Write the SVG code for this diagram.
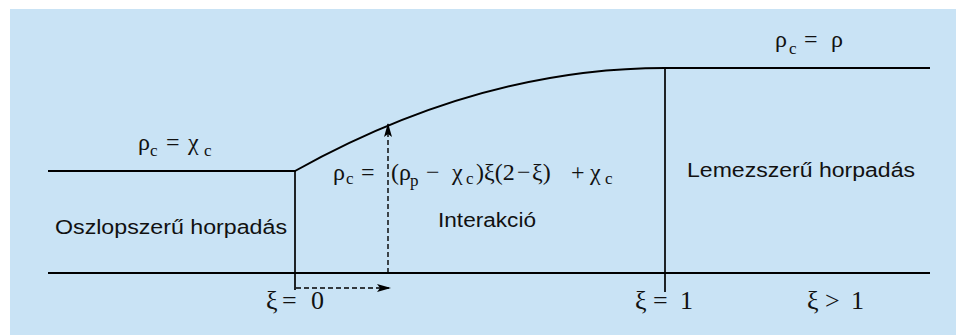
<svg xmlns="http://www.w3.org/2000/svg" width="956" height="335" viewBox="0 0 956 335">
<style>
.ln{stroke:#000;stroke-width:2;fill:none}
.vl{stroke:#000;stroke-width:1.7;fill:none}
.dash{stroke:#000;stroke-width:1.4;stroke-dasharray:5,3;fill:none}
.sans{font-family:"Liberation Sans",Arial,sans-serif;fill:#111}
.math{font-family:"Liberation Serif","Times New Roman",serif;fill:#111;font-size:24px}
.big{font-size:26px}
.sub{font-size:17px}
</style>
<defs>
<marker id="ah" markerWidth="14" markerHeight="8" refX="14" refY="4" orient="auto" markerUnits="userSpaceOnUse">
<path d="M0,0 L14,4 L0,8 L3,4 Z" fill="#000"/>
</marker>
</defs>
<rect x="10" y="9" width="946" height="326" fill="#c9e3f5"/>
<g id="connectors">
<line class="ln" x1="48" y1="171" x2="296" y2="171"/>
<line class="ln" x1="48" y1="273" x2="930" y2="273"/>
<line class="ln" x1="665" y1="68" x2="930" y2="68"/>
<path class="ln" d="M295,171 Q480,68 665,68"/>
<line class="vl" x1="295" y1="170" x2="295" y2="290"/>
<line class="vl" x1="665" y1="68" x2="665" y2="292"/>
<line class="dash" x1="388" y1="273" x2="388" y2="123" marker-end="url(#ah)"/>
<line class="dash" x1="296" y1="288" x2="391" y2="288" marker-end="url(#ah)"/>
</g>
<g id="region-column">
<text class="sans" x="55" y="234" font-size="20" textLength="232" lengthAdjust="spacingAndGlyphs">Oszlopszerű horpadás</text>
<text class="math" x="138" y="150">ρ<tspan class="sub" x="150" y="156">c</tspan><tspan x="166" y="150">=</tspan><tspan x="188" y="150">χ</tspan><tspan class="sub" x="204" y="156">c</tspan></text>
</g>
<g id="region-interaction">
<text class="sans" x="438" y="227" font-size="20" textLength="98" lengthAdjust="spacingAndGlyphs">Interakció</text>
<text class="math" x="333" y="180">ρ<tspan class="sub" x="346" y="184">c</tspan><tspan x="361" y="180">=</tspan><tspan x="391" y="180">(ρ</tspan><tspan class="sub" x="410" y="186">p</tspan><tspan x="426" y="180">−</tspan><tspan x="452" y="180">χ</tspan><tspan class="sub" x="466" y="184">c</tspan><tspan x="476" y="180">)ξ(2</tspan><tspan x="517" y="180">−</tspan><tspan x="532" y="180">ξ)</tspan><tspan x="571" y="180">+</tspan><tspan x="590" y="180">χ</tspan><tspan class="sub" x="605" y="184">c</tspan></text>
</g>
<g id="region-plate">
<text class="sans" x="687" y="177" font-size="19.5" textLength="228" lengthAdjust="spacingAndGlyphs">Lemezszerű horpadás</text>
<text class="math" x="775" y="47">ρ<tspan class="sub" x="789" y="54">c</tspan><tspan x="804" y="47">=</tspan><tspan x="831" y="47">ρ</tspan></text>
</g>
<g id="axis-labels">
<text class="math big" x="266" y="309">ξ<tspan x="282">=</tspan><tspan x="311">0</tspan></text>
<text class="math big" x="635" y="309">ξ<tspan x="653">=</tspan><tspan x="680">1</tspan></text>
<text class="math big" x="807" y="309">ξ<tspan x="825">&gt;</tspan><tspan x="851">1</tspan></text>
</g>
</svg>
